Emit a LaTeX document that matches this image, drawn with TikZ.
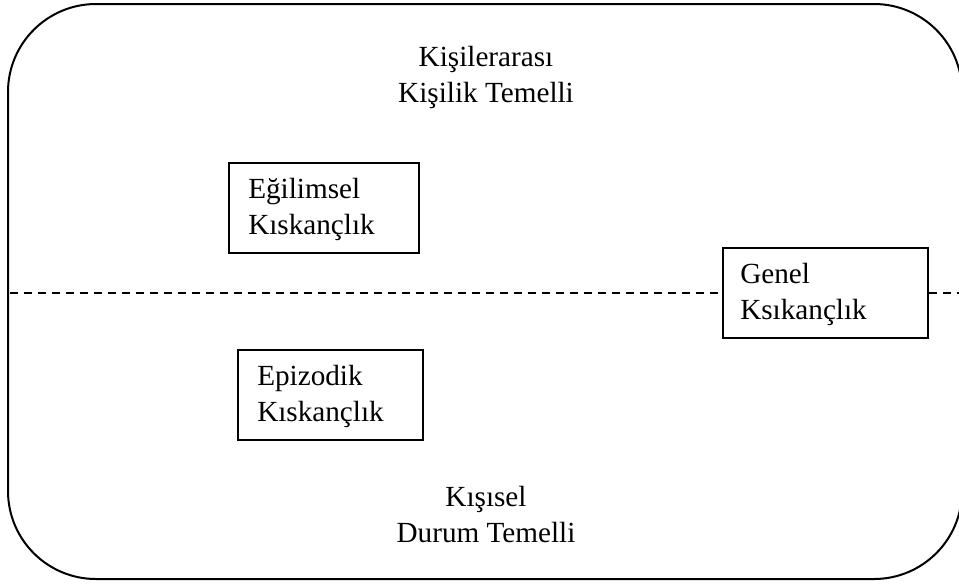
\documentclass[tikz,border=0pt]{standalone}
\usepackage{fontspec}
\setmainfont{Liberation Serif}
\begin{document}
\begin{tikzpicture}[x=0.75pt,y=-0.75pt,
  every node/.style={font=\fontsize{21.9}{26.6}\selectfont, inner sep=0pt},
  frame/.style={draw, line width=1.5pt, rounded corners=66pt},
  conceptbox/.style={draw, line width=1.4pt, minimum width=142.5pt, minimum height=67.5pt, anchor=north west},
  boxtext/.style={align=left, anchor=base west},
  axistext/.style={align=center, anchor=base},
  divider/.style={line width=1pt, dash pattern=on 6pt off 4.5pt}]
  \useasboundingbox (0,0) rectangle (959,583);
  \clip (0,0) rectangle (959,583);

  % outer frame
  \draw[frame] (8,4) rectangle (962,579);

  % axis labels (anchored at the baseline of the last line)
  \node[axistext] (top) at (486,102) {Kişilerarası\\Kişilik Temelli};
  \node[axistext] (bottom) at (486,542) {Kışısel\\Durum Temelli};

  % concept boxes
  \node[conceptbox] (egil) at (228,162) {};
  \node[boxtext] (egiltxt) at (248,234) {Eğilimsel\\Kıskançlık};

  \node[conceptbox, minimum width=138.75pt] (epiz) at (237,349) {};
  \node[boxtext] (epiztxt) at (257,421) {Epizodik\\Kıskançlık};

  \node[conceptbox, minimum width=153.75pt] (genel) at (722,247) {};
  \node[boxtext] (geneltxt) at (740,319) {Genel\\Ksıkançlık};

  % dividing line
  \coordinate (dl) at (10,293);
  \coordinate (dr) at (962,293);
  \draw[divider] (dl) -- (dl -| genel.west);
  \draw[divider] (dr -| genel.east) -- (dr);
\end{tikzpicture}
\end{document}
